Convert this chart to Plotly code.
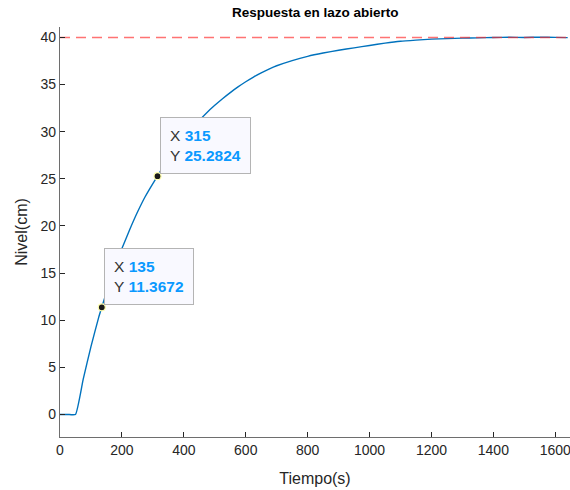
import plotly.graph_objects as go

# Data
tiempo = [0, 25, 50, 75, 100, 125, 135, 150, 175, 200, 225, 250, 275, 300, 315,
          325, 350, 375, 400, 425, 450, 475, 500, 525, 550, 575, 600, 625, 650,
          675, 700, 750, 800, 850, 900, 950, 1000, 1050, 1100, 1150, 1200, 1250,
          1300, 1350, 1400, 1450, 1500, 1550, 1600, 1640]
nivel = [0, 0, 0, 3.75, 7.2, 10.3, 11.3672, 12.95, 15.4, 17.6, 19.6, 21.45, 23.1,
         24.5, 25.2824, 25.85, 27.1, 28.25, 29.3, 30.25, 31.2, 32.05, 32.8, 33.5,
         34.15, 34.75, 35.3, 35.8, 36.25, 36.65, 37.0, 37.55, 38.0, 38.35, 38.65,
         38.9, 39.15, 39.4, 39.6, 39.72, 39.82, 39.88, 39.93, 39.96, 40.0, 40.02,
         40.0, 40.03, 40.01, 39.98]
referencia = 40
tips_x = [135, 315]
tips_y = [11.3672, 25.2824]

x_range = [0, 1647.5]
y_range = [-2.39, 41.11]
x_ticks = [0, 200, 400, 600, 800, 1000, 1200, 1400, 1600]
y_ticks = [0, 5, 10, 15, 20, 25, 30, 35, 40]

FONT = "Liberation Sans, Arial, Helvetica, sans-serif"
AX = "#262626"

fig = go.Figure()
fig.add_trace(go.Scatter(x=tiempo, y=nivel, mode="lines", line_shape="spline",
                         line=dict(color="#0072BD", width=1.4, smoothing=0.4),
                         hoverinfo="skip", showlegend=False))
fig.add_trace(go.Scatter(x=[x_range[0], x_range[1]], y=[referencia, referencia],
                         mode="lines",
                         line=dict(color="rgba(255,40,40,0.65)", width=1.5, dash="10px,6px"),
                         hoverinfo="skip", showlegend=False))
fig.add_trace(go.Scatter(x=tips_x, y=tips_y, mode="markers",
                         marker=dict(color="#1a1a1a", size=7,
                                     line=dict(color="#ffffb0", width=1.2)),
                         hoverinfo="skip", showlegend=False))

for tx, ty in zip(tips_x, tips_y):
    fig.add_annotation(
        x=tx, y=ty, xref="x", yref="y", showarrow=False,
        xanchor="left", yanchor="bottom", xshift=2, yshift=2,
        align="left",
        text=("X <b><span style='color:#0a99ff'>%g</span></b><br>"
              "Y <b><span style='color:#0a99ff'>%g</span></b>" % (tx, ty)),
        font=dict(family=FONT, size=15.5, color="#333333"),
        bgcolor="#f9f9ff", bordercolor="#b4b4b4", borderwidth=1, borderpad=9,
    )

fig.update_layout(
    width=570, height=490,
    margin=dict(l=60, r=0, t=27, b=53, autoexpand=False),
    paper_bgcolor="white", plot_bgcolor="white",
    font=dict(family=FONT, color=AX),
    title=dict(text="<b>Respuesta en lazo abierto</b>", x=0.553, xanchor="center",
               y=0.9755, yanchor="middle", automargin=False,
               font=dict(size=13.5, color="black", family=FONT)),
    xaxis=dict(range=x_range, tickvals=x_ticks, ticks="inside", ticklen=5,
               tickcolor=AX, showline=True, linecolor="#6e6e6e", linewidth=1.2,
               showgrid=False, zeroline=False, automargin=False,
               ticklabeloverflow="allow",
               tickfont=dict(size=14, color=AX),
               title=dict(text="Tiempo(s)", font=dict(size=16, color=AX), standoff=15)),
    yaxis=dict(range=y_range, tickvals=y_ticks, ticks="inside", ticklen=5,
               tickcolor=AX, showline=True, linecolor="#6e6e6e", linewidth=1.2,
               showgrid=False, zeroline=False, automargin=False,
               tickfont=dict(size=14, color=AX),
               title=dict(text="Nivel(cm)", font=dict(size=16, color=AX), standoff=8)),
)

fig.write_html("out.html", config={"displayModeBar": False},
               post_script="document.body.style.margin='0';document.body.style.overflow='hidden';")
